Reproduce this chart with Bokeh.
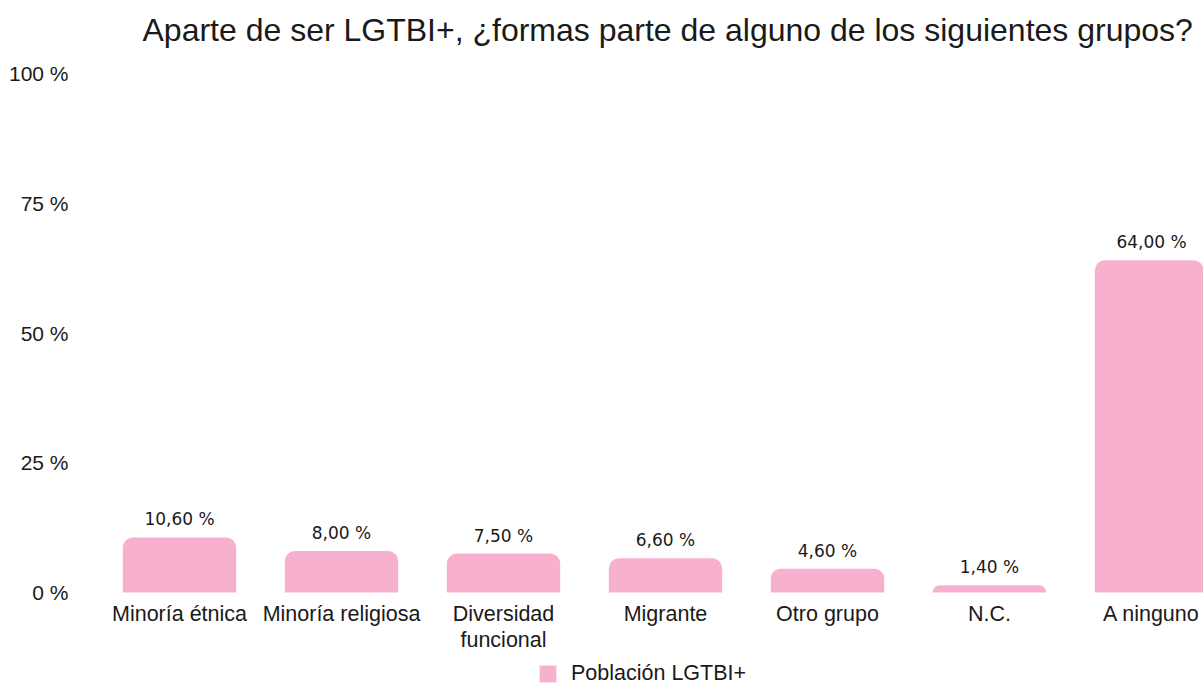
from bokeh.plotting import figure
from bokeh.models import (ColumnDataSource, Range1d, FixedTicker, PrintfTickFormatter,
                          Legend, LegendItem, Title)
from bokeh.core.properties import value
from bokeh.embed import file_html
from bokeh.resources import INLINE

categories = ["Minoría étnica", "Minoría religiosa", "Diversidad\nfuncional", "Migrante",
              "Otro grupo", "N.C.", "A ninguno"]
values = [10.6, 8.0, 7.5, 6.6, 4.6, 1.4, 64.0]
value_labels = ["10,60 %", "8,00 %", "7,50 %", "6,60 %", "4,60 %", "1,40 %", "64,00 %"]
y_ticks = [0, 25, 50, 75, 100]
series_name = "Población LGTBI+"
title_text = "Aparte de ser LGTBI+, ¿formas parte de alguno de los siguientes grupos?"

FONT = "Liberation Sans"
TXT = "#1a1a1a"
PINK = "#F7B1CF"

W, H = 1203, 686
LEFT = 98
FRAME_TOP = 55        # local pixel of frame top
Y100 = 73             # local pixel of y = 100
ZERO_Y = 592          # local pixel of y = 0
PX_UNIT_X = 162
PX_UNIT_Y = (ZERO_Y - Y100) / 100.0

idx = list(range(len(categories)))
zeros = [0] * len(categories)
src = ColumnDataSource(dict(x=idx, top=values, lab=value_labels, zero=zeros, cat=categories))

p = figure(width=W, height=H, output_backend="svg", toolbar_location=None,
           x_axis_location=None,
           x_range=Range1d(-0.5, -0.5 + (W - LEFT) / PX_UNIT_X),
           y_range=Range1d(-(H - ZERO_Y) / PX_UNIT_Y, 100 + (Y100 - FRAME_TOP) / PX_UNIT_Y),
           min_border_left=LEFT, min_border_right=0, min_border_top=FRAME_TOP,
           min_border_bottom=0)
p.title = None
p.add_layout(Title(text=title_text, align="left", offset=44, text_font=FONT,
                   text_font_size="32px", text_font_style="normal", text_color=TXT,
                   standoff=15), "above")

r = p.vbar(x="x", top="top", width=0.7, source=src, fill_color=PINK, line_color=None,
           border_radius=(10, 10, 0, 0))
p.text(x="x", y="top", text="lab", source=src, text_align="center", text_baseline="bottom",
       y_offset=-8, text_font=value("DejaVu Sans"), text_font_size="17px", text_color=TXT)
# category labels under the bars
p.text(x="x", y="zero", text="cat", source=src, text_align="center", text_baseline="top",
       y_offset=9, text_font=value(FONT), text_font_size="21.5px", text_color=TXT,
       text_line_height=1.1)

p.xgrid.visible = False
p.ygrid.visible = False
p.outline_line_color = None

p.yaxis.ticker = FixedTicker(ticks=y_ticks)
p.yaxis.formatter = PrintfTickFormatter(format="%d %%")
p.yaxis.axis_line_color = None
p.yaxis.major_tick_line_color = None
p.yaxis.minor_tick_line_color = None
p.yaxis.major_label_standoff = 24
p.yaxis.major_label_text_font = FONT
p.yaxis.major_label_text_font_size = "21px"
p.yaxis.major_label_text_color = TXT

legend = Legend(items=[LegendItem(label=series_name, renderers=[r])], orientation="horizontal",
                location=(439, 0), label_text_font=FONT, label_text_font_size="21.5px",
                label_text_color=TXT, glyph_width=21, glyph_height=21, border_line_color=None,
                background_fill_alpha=0, padding=0, margin=0, label_standoff=13)
p.add_layout(legend)

open("out.html", "w").write(file_html(p, INLINE))
